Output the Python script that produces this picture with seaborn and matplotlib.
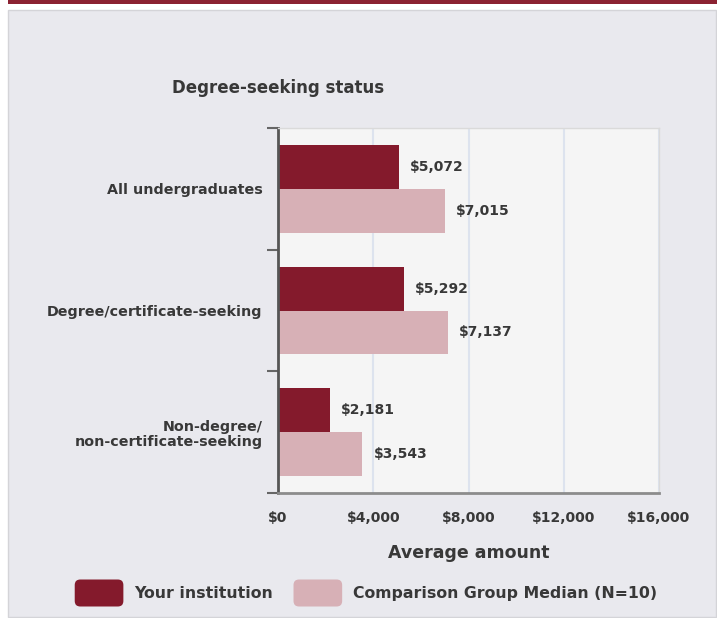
import matplotlib
matplotlib.use('Agg')
import matplotlib.pyplot as plt
import matplotlib.patches as mpatches
from matplotlib.legend_handler import HandlerPatch
import numpy as np
import pandas as pd
import seaborn as sns

# data
categories = ['All undergraduates', 'Degree/certificate-seeking',
              'Non-degree/\nnon-certificate-seeking']
series = ['Your institution', 'Comparison Group Median (N=10)']
your_values = [5072, 5292, 2181]
comparison_values = [7015, 7137, 3543]
x_ticks = [0, 4000, 8000, 12000, 16000]

dark_red = '#841a2c'
light_pink = '#d7b0b6'
text_color = '#383838'

df = pd.DataFrame({
    'category': categories * 2,
    'series': [series[0]] * 3 + [series[1]] * 3,
    'amount': your_values + comparison_values,
})

sns.set_theme(style='white')
plt.rcParams['font.family'] = ['DejaVu Sans']
plt.rcParams['font.weight'] = 'bold'

fig = plt.figure(figsize=(7.17, 6.18), dpi=100)
fig.patch.set_facecolor('white')

# outer gray panel and top band
fig.patches.append(mpatches.Rectangle((8 / 717, 1 / 618), 708 / 717, 607 / 618,
                                      transform=fig.transFigure, facecolor='#e9e9ee',
                                      edgecolor='#d4d4d8', linewidth=1, zorder=-10))
fig.patches.append(mpatches.Rectangle((8 / 717, 614 / 618), 709 / 717, 4 / 618,
                                      transform=fig.transFigure, facecolor='#8b2232',
                                      edgecolor='none', zorder=-10))

ax = fig.add_axes([278 / 717, (618 - 493) / 618, 381 / 717, 365 / 618])
ax.set_facecolor('#f5f5f5')

sns.barplot(data=df, y='category', x='amount', hue='series', orient='h',
            palette=[dark_red, light_pink], width=0.72, ax=ax,
            saturation=1, legend=False, linewidth=0)

for container, vals in zip(ax.containers, [your_values, comparison_values]):
    ax.bar_label(container, labels=['${:,}'.format(v) for v in vals], padding=8,
                 fontsize=10, fontweight='bold', color=text_color)

ax.set_xlim(0, 16000)
ax.set_ylim(2.5, -0.5)
ax.set_xticks(x_ticks)
ax.set_xticklabels(['${:,}'.format(v) for v in x_ticks], fontsize=10,
                   fontweight='bold', color=text_color)
ax.tick_params(axis='x', length=0, pad=13)
ax.grid(axis='x', color='#dde3ee', linewidth=1.5)
ax.set_axisbelow(True)

ax.set_yticks(range(len(categories)))
ax.set_yticklabels(categories, fontsize=10.3, fontweight='bold', color=text_color,
                   linespacing=1.15)
ax.set_yticks([-0.5, 0.5, 1.5, 2.5], minor=True)
ax.tick_params(axis='y', which='major', length=0, pad=11)
ax.tick_params(axis='y', which='minor', length=8, width=1.5, color='#666666', left=True)

ax.set_xlabel('Average amount', fontsize=12.5, fontweight='bold', color=text_color,
              labelpad=14)
ax.set_ylabel('')

for side in ['top', 'right']:
    ax.spines[side].set_color('#dadada')
    ax.spines[side].set_linewidth(1)
ax.spines['left'].set_color('#555555')
ax.spines['left'].set_linewidth(2)
ax.spines['bottom'].set_color('#8c8c8c')
ax.spines['bottom'].set_linewidth(2)

fig.text(172 / 717, 1 - 88 / 618, 'Degree-seeking status', fontsize=12,
         fontweight='bold', color=text_color, va='center', ha='left')


def rounded_patch(legend, orig_handle, xdescent, ydescent, width, height, fontsize):
    return mpatches.FancyBboxPatch((-xdescent, -ydescent), width, height,
                                   boxstyle='round,pad=0,rounding_size=4')


handles = [mpatches.Patch(facecolor=dark_red, edgecolor='none', label=series[0]),
           mpatches.Patch(facecolor=light_pink, edgecolor='none', label=series[1])]
fig.legend(handles=handles, loc='center', bbox_to_anchor=(366 / 717, 1 - 593 / 618),
           ncol=2, frameon=False, fontsize=11.3, handlelength=3.1, handleheight=2.27,
           columnspacing=1.3, handletextpad=0.7,
           handler_map={mpatches.Patch: HandlerPatch(patch_func=rounded_patch)},
           labelcolor=text_color)

fig.savefig('out.png', dpi=100)
